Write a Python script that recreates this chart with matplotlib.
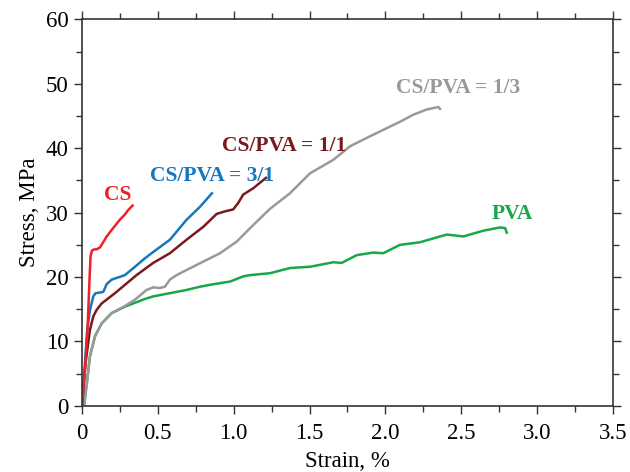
import matplotlib.pyplot as plt
from matplotlib.ticker import MultipleLocator

plt.rcParams['font.family'] = ['Liberation Serif', 'DejaVu Serif']

# stress-strain curves (strain in %, stress in MPa)
cs_x = [0, 0.02, 0.037, 0.05, 0.057, 0.066, 0.08, 0.097, 0.119, 0.14, 0.163, 0.206, 0.25, 0.283, 0.305, 0.334]
cs_y = [0, 5.6, 11.8, 19.6, 23.2, 24.1, 24.3, 24.3, 24.6, 25.4, 26.3, 27.6, 28.9, 29.7, 30.4, 31.1]

cs31_x = [0, 0.02, 0.035, 0.053, 0.075, 0.09, 0.119, 0.14, 0.147, 0.163, 0.196, 0.283, 0.35, 0.415,
          0.459, 0.58, 0.69, 0.778, 0.857]
cs31_y = [0, 6.6, 11.8, 14.9, 17.0, 17.5, 17.6, 17.7, 18.0, 18.9, 19.6, 20.3, 21.6, 22.9,
          23.7, 25.8, 28.9, 30.9, 33.0]

cs11_x = [0, 0.024, 0.053, 0.075, 0.097, 0.13, 0.218, 0.294, 0.36, 0.47, 0.58, 0.69, 0.8,
          0.888, 0.943, 0.997, 1.03, 1.063, 1.13, 1.213]
cs11_y = [0, 6.6, 11.8, 13.9, 14.9, 15.9, 17.5, 19.0, 20.3, 22.2, 23.7, 25.8, 27.8,
          29.8, 30.2, 30.5, 31.5, 32.8, 33.8, 35.4]

cs13_x = [0, 0.015, 0.035, 0.053, 0.086, 0.13, 0.196, 0.283, 0.35, 0.426, 0.47, 0.514, 0.547,
          0.58, 0.624, 0.69, 0.8, 0.91, 1.02, 1.13, 1.24, 1.371, 1.503, 1.657, 1.767, 1.877,
          2.008, 2.096, 2.184, 2.272, 2.349, 2.36]
cs13_y = [0, 0.2, 4.0, 7.7, 10.8, 12.8, 14.4, 15.5, 16.5, 18.0, 18.4, 18.3, 18.5,
          19.6, 20.3, 21.1, 22.4, 23.7, 25.5, 28.1, 30.6, 33.0, 36.1, 38.2, 40.3, 41.6,
          43.1, 44.1, 45.2, 46.0, 46.4, 46.1]

pva_x = [0, 0.015, 0.035, 0.053, 0.086, 0.13, 0.196, 0.283, 0.415, 0.47, 0.58, 0.69, 0.778,
         0.844, 0.976, 1.063, 1.107, 1.24, 1.371, 1.503, 1.657, 1.712, 1.811, 1.92, 1.986,
         2.096, 2.228, 2.404, 2.514, 2.646, 2.756, 2.789, 2.8]
pva_y = [0, 0.2, 4.0, 7.7, 10.8, 12.8, 14.4, 15.4, 16.6, 17.0, 17.5, 18.0, 18.5,
         18.8, 19.3, 20.1, 20.3, 20.6, 21.4, 21.6, 22.3, 22.2, 23.4, 23.8, 23.7,
         25.0, 25.4, 26.6, 26.3, 27.2, 27.7, 27.6, 26.9]

series = [
    (pva_x, pva_y, '#1aa64a', 'PVA', (2.84, 29.8)),
    (cs13_x, cs13_y, '#999999', 'CS/PVA = 1/3', (2.48, 49.4)),
    (cs11_x, cs11_y, '#7a1a1e', 'CS/PVA = 1/1', (1.33, 40.4)),
    (cs31_x, cs31_y, '#1577c0', 'CS/PVA = 3/1', (0.86, 35.7)),
    (cs_x, cs_y, '#ec2228', 'CS', (0.237, 32.8)),
]

fig = plt.figure(figsize=(6.3, 4.72), dpi=100)
ax = fig.add_axes([0.130, 0.140, 0.843, 0.819])

for x, y, c, name, pos in series:
    ax.plot(x, y, color=c, linewidth=1.8)
    ax.text(pos[0], pos[1], name, color=c, fontsize=15.5, fontweight='bold',
            ha='center', va='center')

ax.set_xlim(0, 3.5)
ax.set_ylim(0, 60)
ax.xaxis.set_major_locator(MultipleLocator(0.5))
ax.xaxis.set_minor_locator(MultipleLocator(0.25))
ax.yaxis.set_major_locator(MultipleLocator(10))
ax.yaxis.set_minor_locator(MultipleLocator(5))
ax.set_xticks([0, 0.5, 1.0, 1.5, 2.0, 2.5, 3.0, 3.5], ['0', '0.5', '1.0', '1.5', '2.0', '2.5', '3.0', '3.5'])

ax.tick_params(which='both', direction='out', top=True, right=True, labelsize=16.5,
               color='#333333', width=1)
ax.tick_params(which='major', length=6)
ax.tick_params(which='minor', length=4)
ax.tick_params(axis='x', which='major', pad=6)
for s in ax.spines.values():
    s.set_linewidth(1.2)
    s.set_color('#333333')

ax.set_xlabel('Strain, %', fontsize=16.5, labelpad=5)
ax.set_ylabel('Stress, MPa', fontsize=16.5, labelpad=4)

fig.savefig('out.png', dpi=100)
